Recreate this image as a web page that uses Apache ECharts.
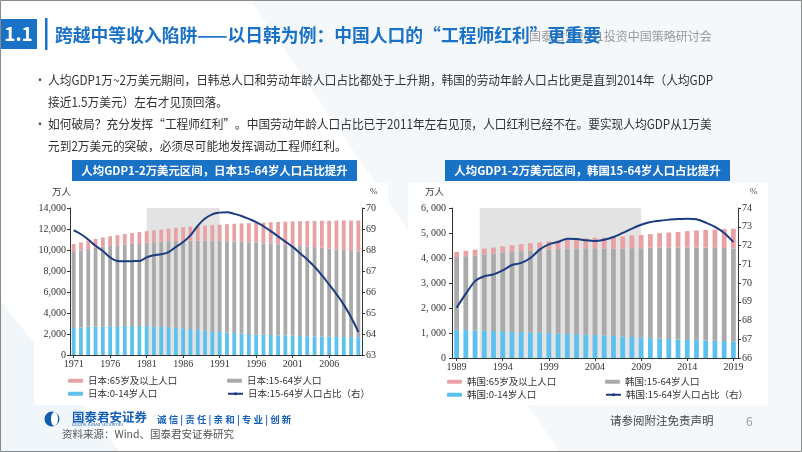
<!DOCTYPE html>
<html><head><meta charset="utf-8">
<script src="https://cdn.jsdelivr.net/npm/echarts@6/dist/echarts.min.js"></script>
<style>html,body{margin:0;padding:0;background:#fff}#c{width:802px;height:452px}</style>
</head><body><div id="c"></div>
<script>
// ---------- Japan (万人, %) ----------
const jpYears = ['1971','1972','1973','1974','1975','1976','1977','1978','1979','1980','1981','1982','1983','1984','1985','1986','1987','1988','1989','1990','1991','1992','1993','1994','1995','1996','1997','1998','1999','2000','2001','2002','2003','2004','2005','2006','2007','2008','2009','2010'];
const jpYoung = [2560,2620,2680,2710,2722,2740,2750,2757,2760,2752,2740,2720,2690,2650,2603,2543,2470,2390,2320,2249,2190,2140,2090,2045,2001,1970,1937,1906,1874,1847,1830,1810,1790,1773,1759,1744,1729,1718,1701,1684];
const jpWork = [7260,7320,7420,7497,7585,7649,7707,7767,7826,7889,7950,8018,8094,8171,8255,8333,8424,8505,8571,8623,8660,8697,8714,8723,8730,8714,8703,8690,8674,8642,8612,8571,8541,8508,8451,8386,8328,8268,8201,8180];
const jpOld = [750,780,810,850,887,920,960,995,1030,1065,1100,1135,1170,1210,1247,1290,1330,1380,1430,1489,1560,1620,1690,1759,1826,1902,1976,2051,2119,2204,2287,2363,2431,2488,2567,2660,2746,2822,2901,2942];
const jpRatio = [68.94,68.75,68.5,68.2,67.95,67.65,67.48,67.46,67.47,67.48,67.65,67.75,67.8,67.9,68.15,68.38,68.7,69.15,69.5,69.7,69.78,69.8,69.72,69.62,69.48,69.33,69.13,68.9,68.65,68.4,68.15,67.85,67.55,67.2,66.8,66.35,65.9,65.4,64.8,64.1];
const jpShade = ['1981','1991'];

// ---------- Korea ----------
const krYears = ['1989','1990','1991','1992','1993','1994','1995','1996','1997','1998','1999','2000','2001','2002','2003','2004','2005','2006','2007','2008','2009','2010','2011','2012','2013','2014','2015','2016','2017','2018','2019'];
const krYoung = [1130,1115,1100,1090,1080,1070,1055,1040,1025,1010,995,980,968,955,940,922,905,885,865,842,818,795,775,757,740,725,712,700,690,678,665];
const krWork = [2910,2958,3007,3052,3097,3140,3188,3234,3276,3309,3341,3381,3414,3434,3451,3471,3477,3492,3510,3553,3573,3615,3649,3668,3683,3700,3710,3717,3716,3723,3716];
const krOld = [205,214,223,233,243,254,266,279,294,310,326,340,355,375,395,415,436,460,485,510,527,545,570,595,620,650,680,705,730,760,790];
const krRatio = [68.68,69.43,70.1,70.36,70.46,70.67,70.96,71.07,71.33,71.78,72.06,72.19,72.36,72.35,72.28,72.24,72.31,72.45,72.67,72.9,73.11,73.25,73.32,73.38,73.41,73.43,73.4,73.22,72.99,72.67,72.19];
const krShade = ['1993','2009'];

// ---------- Texts ----------
const titleText = '跨越中等收入陷阱——以日韩为例：中国人口的“工程师红利”更重要';
const eventText = '国泰君安2021投资中国策略研讨会';
const bulletLines = [
  '人均GDP1万~2万美元期间，日韩总人口和劳动年龄人口占比都处于上升期，韩国的劳动年龄人口占比更是直到2014年（人均GDP',
  '接近1.5万美元）左右才见顶回落。',
  '如何破局？充分发挥“工程师红利”。中国劳动年龄人口占比已于2011年左右见顶，人口红利已经不在。要实现人均GDP从1万美',
  '元到2万美元的突破，必须尽可能地发挥调动工程师红利。'
];
const jpChartTitle = '人均GDP1-2万美元区间，日本15-64岁人口占比提升';
const krChartTitle = '人均GDP1-2万美元区间，韩国15-64岁人口占比提升';
const jpNames = ['日本:65岁及以上人口','日本:15-64岁人口','日本:0-14岁人口','日本:15-64岁人口占比（右）'];
const krNames = ['韩国:65岁及以上人口','韩国:15-64岁人口','韩国:0-14岁人口','韩国:15-64岁人口占比（右）'];

const BLUE = '#1a72c6';
const C_OLD = '#e8a2a4', C_WORK = '#aaaaaa', C_YOUNG = '#5cc1ec', C_LINE = '#1d3c80';
const CJK = '"Noto Sans CJK SC", sans-serif';
const SERIF = '"Liberation Serif", "DejaVu Serif", serif';

const chart = echarts.init(document.getElementById('c'), null, {renderer: 'canvas'});

function axisCommon(extra) {
  return Object.assign({
    axisLine: {show: true, lineStyle: {color: '#333', width: 1}},
    axisTick: {show: true, length: 3, lineStyle: {color: '#333'}},
    splitLine: {show: false},
    axisLabel: {fontFamily: SERIF, fontSize: 10, color: '#333', margin: 4}
  }, extra);
}

function legendItem(name, left, top) {
  return {
    data: [name], left: left, top: top, itemWidth: 15, itemHeight: 4, padding: 0,
    selectedMode: false,
    textStyle: {fontFamily: CJK, fontSize: 9.5, color: '#333'}
  };
}

function bullet(text, y) {
  return {type: 'text', x: 48, y: y, scaleX: 0.935, style: {x: 0, y: 0, text: text, fill: '#333', font: '12.5px ' + CJK, textVerticalAlign: 'middle'}};
}

const krFmt = v => v >= 1000 ? Math.floor(v / 1000) + ', ' + String(v % 1000).padStart(3, '0') : String(v);

const option = {
  backgroundColor: '#ffffff',
  animation: false,
  grid: [
    {left: 70, right: 440, top: 208, bottom: 97},
    {left: 452, right: 64, top: 208, bottom: 94}
  ],
  xAxis: [
    axisCommon({type: 'category', gridIndex: 0, data: jpYears,
      axisTick: {show: true, length: 3, interval: 4, alignWithLabel: true, lineStyle: {color: '#333'}},
      axisLabel: {fontFamily: SERIF, fontSize: 10, color: '#333', interval: 4, margin: 4}}),
    axisCommon({type: 'category', gridIndex: 1, data: krYears,
      axisTick: {show: true, length: 3, interval: 4, alignWithLabel: true, lineStyle: {color: '#333'}},
      axisLabel: {fontFamily: SERIF, fontSize: 10, color: '#333', interval: 4, margin: 4}})
  ],
  yAxis: [
    axisCommon({type: 'value', gridIndex: 0, min: 0, max: 14000, interval: 2000, position: 'left'}),
    axisCommon({type: 'value', gridIndex: 0, min: 63, max: 70, interval: 1, position: 'right'}),
    axisCommon({type: 'value', gridIndex: 1, min: 0, max: 6000, interval: 1000, position: 'left',
      axisLabel: {fontFamily: SERIF, fontSize: 10, color: '#333', margin: 6, formatter: krFmt}}),
    axisCommon({type: 'value', gridIndex: 1, min: 66, max: 74, interval: 1, position: 'right'})
  ],
  legend: [
    legendItem(jpNames[0], 68, 376), legendItem(jpNames[1], 227, 376),
    legendItem(jpNames[2], 68, 389), legendItem(jpNames[3], 227, 389),
    legendItem(krNames[0], 447, 377), legendItem(krNames[1], 605, 377),
    legendItem(krNames[2], 447, 390), legendItem(krNames[3], 605, 390)
  ],
  series: [
    {name: jpNames[2], type: 'bar', xAxisIndex: 0, yAxisIndex: 0, stack: 'jp', barWidth: '52%', data: jpYoung,
      itemStyle: {color: C_YOUNG},
      markArea: {silent: true, itemStyle: {color: '#e3e3e3'}, label: {show: false},
        data: [[{xAxis: jpShade[0]}, {xAxis: jpShade[1]}]]}},
    {name: jpNames[1], type: 'bar', xAxisIndex: 0, yAxisIndex: 0, stack: 'jp', barWidth: '52%', data: jpWork, itemStyle: {color: C_WORK}},
    {name: jpNames[0], type: 'bar', xAxisIndex: 0, yAxisIndex: 0, stack: 'jp', barWidth: '52%', data: jpOld, itemStyle: {color: C_OLD}},
    {name: jpNames[3], type: 'line', xAxisIndex: 0, yAxisIndex: 1, data: jpRatio, smooth: true, symbol: 'none',
      lineStyle: {color: C_LINE, width: 2}, itemStyle: {color: C_LINE}, z: 5},
    {name: krNames[2], type: 'bar', xAxisIndex: 1, yAxisIndex: 2, stack: 'kr', barWidth: '52%', data: krYoung,
      itemStyle: {color: C_YOUNG},
      markArea: {silent: true, itemStyle: {color: '#e3e3e3'}, label: {show: false},
        data: [[{xAxis: krShade[0]}, {xAxis: krShade[1]}]]}},
    {name: krNames[1], type: 'bar', xAxisIndex: 1, yAxisIndex: 2, stack: 'kr', barWidth: '52%', data: krWork, itemStyle: {color: C_WORK}},
    {name: krNames[0], type: 'bar', xAxisIndex: 1, yAxisIndex: 2, stack: 'kr', barWidth: '52%', data: krOld, itemStyle: {color: C_OLD}},
    {name: krNames[3], type: 'line', xAxisIndex: 1, yAxisIndex: 3, data: krRatio, smooth: 0.25, symbol: 'none',
      lineStyle: {color: C_LINE, width: 2}, itemStyle: {color: C_LINE}, z: 5}
  ],
  graphic: [
    // background decoration
    {type: 'polygon', z: -10, silent: true, shape: {points: [[250,0],[802,0],[802,452],[560,452]]}, style: {fill: 'rgba(225,234,244,0.35)'}},
    {type: 'polygon', z: -10, silent: true, shape: {points: [[0,300],[120,452],[0,452]]}, style: {fill: 'rgba(225,234,244,0.45)'}},
    {type: 'rect', z: -9, silent: true, shape: {x: 34, y: 183, width: 354, height: 222}, style: {fill: '#ffffff'}},
    {type: 'rect', z: -9, silent: true, shape: {x: 408, y: 183, width: 360, height: 222}, style: {fill: '#ffffff'}},
    // header
    {type: 'rect', shape: {x: 0, y: 19, width: 37, height: 30}, style: {fill: BLUE}},
    {type: 'text', style: {x: 18.5, y: 34, text: '1.1', fill: '#fff', font: 'bold 19px ' + CJK, textAlign: 'center', textVerticalAlign: 'middle'}},
    {type: 'rect', shape: {x: 45, y: 18, width: 2.5, height: 32}, style: {fill: BLUE}},
    {type: 'text', z: 1, style: {x: 529, y: 36, text: eventText, fill: '#9a9a9a', font: '12px ' + CJK, textVerticalAlign: 'middle'}},
    {type: 'text', z: 2, style: {x: 55, y: 35, text: titleText, fill: BLUE, font: 'bold 17.8px ' + CJK, textVerticalAlign: 'middle'}},
    // bullets
    {type: 'text', style: {x: 34, y: 80, text: '•', fill: '#444', font: '12px ' + CJK, textVerticalAlign: 'middle'}},
    {type: 'text', style: {x: 34, y: 124, text: '•', fill: '#444', font: '12px ' + CJK, textVerticalAlign: 'middle'}},
    bullet(bulletLines[0], 80),
    bullet(bulletLines[1], 102),
    bullet(bulletLines[2], 124),
    bullet(bulletLines[3], 146),
    // chart titles
    {type: 'rect', shape: {x: 72, y: 160, width: 285, height: 21}, style: {fill: BLUE}},
    {type: 'text', style: {x: 214.5, y: 170.5, text: jpChartTitle, fill: '#fff', font: 'bold 11.4px ' + CJK, textAlign: 'center', textVerticalAlign: 'middle'}},
    {type: 'rect', shape: {x: 445, y: 160, width: 285, height: 21}, style: {fill: BLUE}},
    {type: 'text', style: {x: 587.5, y: 170.5, text: krChartTitle, fill: '#fff', font: 'bold 11.4px ' + CJK, textAlign: 'center', textVerticalAlign: 'middle'}},
    // units
    {type: 'text', style: {x: 52, y: 191, text: '万人', fill: '#444', font: '9.5px ' + CJK, textVerticalAlign: 'middle'}},
    {type: 'text', style: {x: 370, y: 192, text: '%', fill: '#444', font: '9px ' + SERIF, textVerticalAlign: 'middle'}},
    {type: 'text', style: {x: 425, y: 191, text: '万人', fill: '#444', font: '9.5px ' + CJK, textVerticalAlign: 'middle'}},
    {type: 'text', style: {x: 750, y: 192, text: '%', fill: '#444', font: '9px ' + SERIF, textVerticalAlign: 'middle'}},
    // footer
    {type: 'circle', shape: {cx: 52, cy: 419, r: 7.5}, style: {fill: '#0d5eb3'}},
    {type: 'ellipse', shape: {cx: 54.5, cy: 419, rx: 3.5, ry: 7}, style: {fill: '#ffffff'}},
    {type: 'text', style: {x: 72, y: 417, text: '国泰君安证券', fill: '#1560b5', font: 'bold 12.5px ' + CJK, textVerticalAlign: 'middle'}},
    {type: 'text', style: {x: 72, y: 424.5, text: 'GUOTAI JUNAN SECURITIES', fill: '#1560b5', font: '4px ' + CJK, textVerticalAlign: 'middle'}},
    {type: 'text', style: {x: 157, y: 419, text: '诚 信 | 责 任 | 亲 和 | 专 业 | 创 新', fill: '#1560b5', font: 'bold 9.5px ' + CJK, textVerticalAlign: 'middle'}},
    {type: 'text', style: {x: 62, y: 434, text: '资料来源：Wind、国泰君安证券研究', fill: '#555', font: '10.5px ' + CJK, textVerticalAlign: 'middle'}},
    {type: 'text', style: {x: 610, y: 421, text: '请参阅附注免责声明', fill: '#444', font: '11.5px ' + CJK, textVerticalAlign: 'middle'}},
    {type: 'text', style: {x: 746, y: 421, text: '6', fill: '#999', font: '12px ' + CJK, textVerticalAlign: 'middle'}},
    // frame
    {type: 'rect', z: 100, silent: true, shape: {x: 0.5, y: 0.5, width: 801, height: 451}, style: {fill: 'none', stroke: '#8a8a8a', lineWidth: 1}}
  ]
};
chart.setOption(option);
</script>
</body></html>
